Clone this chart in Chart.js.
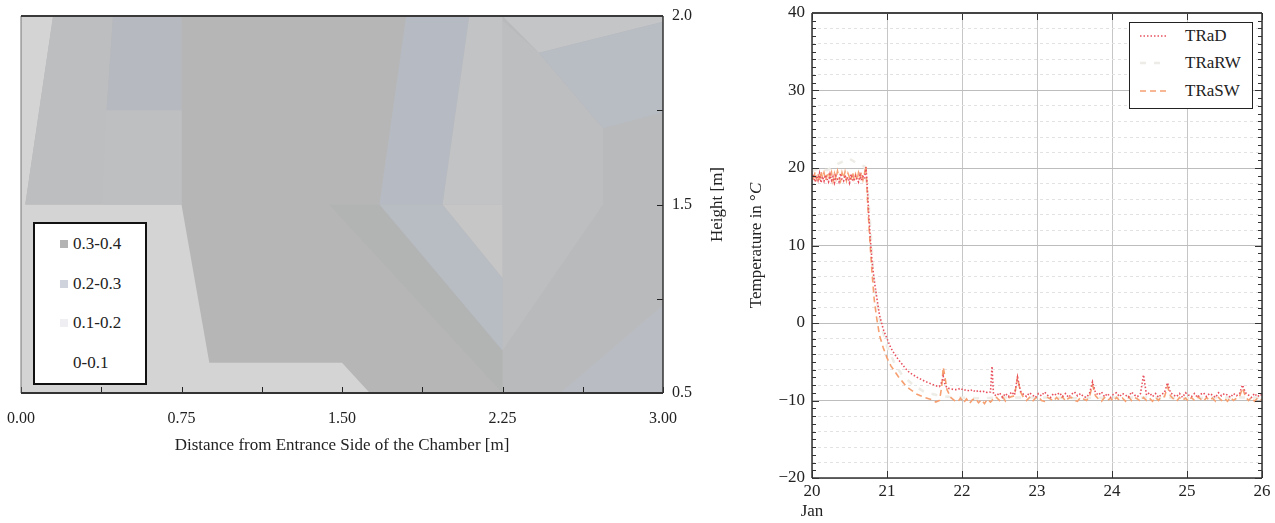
<!DOCTYPE html>
<html>
<head>
<meta charset="utf-8">
<script src="https://cdn.jsdelivr.net/npm/chart.js@4.4.1/dist/chart.umd.min.js"></script>
<style>
  body { margin: 0; background: #fff; }
  #wrap { position: relative; width: 1275px; height: 523px; overflow: hidden; font-family: "Liberation Serif", "Times New Roman", serif; color: #222; }
  #contour { position: absolute; left: 0; top: 0; }
  #temps { position: absolute; left: 740px; top: 0; }
  .legend { position: absolute; background: #fff; box-sizing: border-box; }
  #zoneLegend { left: 33px; top: 222px; width: 114px; height: 163px; border: 2px solid #111; font-size: 17px; }
  #tempLegend { left: 1129px; top: 22px; width: 124px; height: 87px; border: 1.5px solid #222; font-size: 17px; }
  .row { position: absolute; left: 0; height: 20px; line-height: 20px; width: 100%; }
  .row span, .row i, .row svg { position: absolute; top: 0; }
  .sw { display: block; width: 8px; height: 8px; top: 6px !important; }
</style>
</head>
<body>
<div id="wrap">
  <canvas id="contour" width="740" height="523"></canvas>
  <div id="zoneLegend" class="legend"></div>
  <canvas id="temps" width="535" height="523"></canvas>
  <div id="tempLegend" class="legend"></div>
</div>
<script>
// ---- left panel: contour bands (x = distance in m, y = row on the height axis)
const distanceTicks = [0, 0.375, 0.75, 1.125, 1.5, 1.875, 2.25, 2.625, 3];
const distanceLabels = ["0.00", "", "0.75", "", "1.50", "", "2.25", "", "3.00"];
const heightTicks = [0, 1, 2, 3, 4];
const heightLabels = ["0.5", "", "1.5", "", "2.0"];
const contourRanges = ["0.3-0.4", "0.2-0.3", "0.1-0.2", "0-0.1"];

const zonePolygons = [
  [[0, 0], [3, 0], [3, 4], [0, 4]],
  [[0.15, 4], [3, 4], [3, 0], [1.63, 0], [1.5, 0.32], [0.88, 0.32], [0.75, 2], [0.02, 2]],
  [[0.15, 4], [0.43, 4], [0.40, 3], [0.75, 3], [0.75, 2], [0.02, 2]],
  [[0.40, 3], [0.75, 3], [0.75, 2], [0.38, 2]],
  [[0.43, 4], [0.75, 4], [0.75, 3], [0.40, 3]],
  [[2.25, 4], [3, 4], [3, 0], [2.25, 0]],
  [[2.25, 3.95], [2.42, 3.61], [2.72, 2.81], [2.72, 2], [2.25, 0.45]],
  [[2.25, 4], [3, 4], [3, 3.94], [2.42, 3.61]],
  [[2.42, 3.61], [3, 3.94], [3, 2.98], [2.72, 2.81]],
  [[3, 0.93], [3, 0], [2.52, 0]],
  [[1.80, 4], [2.095, 4], [1.97, 2], [1.675, 2]],
  [[2.095, 4], [2.25, 4], [2.25, 2], [1.97, 2]],
  [[1.44, 2], [1.675, 2], [2.25, 0.45], [2.25, 0]],
  [[1.675, 2], [1.97, 2], [2.25, 1.22], [2.25, 0.45]],
  [[1.97, 2], [2.25, 2], [2.25, 1.22]]
];
const zoneColors = ["#d4d4d4", "#b6b6b6", "#bdbec0", "#bebfc1", "#b6bac0", "#b9babc", "#bdbec0",
  "#c4c5c7", "#b8bcc3", "#b9bdc3", "#b6bbc3", "#c2c3c5", "#b2b3b3", "#b8bdc4", "#c6c6c7"];
const swatchColors = ["#b3b3b3", "#cfd3dc", "#eeeef3", "#ffffff"];

// ---- right panel: air temperatures, x = day of January
const sampleDays = [
  20.00, 20.02, 20.04, 20.06, 20.08, 20.10, 20.12, 20.14, 20.16, 20.18,
  20.20, 20.22, 20.24, 20.26, 20.28, 20.30, 20.32, 20.34, 20.36, 20.38,
  20.40, 20.42, 20.44, 20.46, 20.48, 20.50, 20.52, 20.54, 20.56, 20.58,
  20.60, 20.62, 20.64, 20.66, 20.68, 20.70,
  20.72, 20.74, 20.76, 20.78, 20.80, 20.83, 20.86, 20.90, 20.95, 21.00,
  21.05, 21.10, 21.15, 21.20, 21.25, 21.30, 21.40, 21.50, 21.60, 21.65,
  21.70, 21.73, 21.75, 21.77, 21.80, 21.85, 21.90,
  21.94, 21.98, 22.02, 22.06, 22.10, 22.14, 22.18, 22.22, 22.26, 22.30, 22.34, 22.38, 22.40, 22.42,
  22.46, 22.50, 22.54, 22.58, 22.62, 22.66, 22.70, 22.74, 22.78, 22.82,
  22.86, 22.90, 22.94, 22.98, 23.02, 23.06, 23.10, 23.14, 23.18, 23.22,
  23.26, 23.30, 23.34, 23.38, 23.42, 23.46, 23.50, 23.54, 23.58, 23.62,
  23.66, 23.70, 23.74, 23.78, 23.82, 23.86, 23.90, 23.94, 23.98, 24.02,
  24.06, 24.10, 24.14, 24.18, 24.22, 24.26, 24.30, 24.34, 24.38, 24.42,
  24.46, 24.50, 24.54, 24.58, 24.62, 24.66, 24.70, 24.74, 24.78, 24.82,
  24.86, 24.90, 24.94, 24.98, 25.02, 25.06, 25.10, 25.14, 25.18, 25.22,
  25.26, 25.30, 25.34, 25.38, 25.42, 25.46, 25.50, 25.54, 25.58, 25.62,
  25.66, 25.70, 25.74, 25.78, 25.82, 25.86, 25.90, 25.94, 25.98, 26.00
];
const tradTemps = [
  18.5, 19.2, 18.2, 19.0, 18.4, 19.3, 18.1, 18.9, 18.3, 19.1,
  18.6, 18.2, 19.2, 18.4, 18.9, 18.1, 19.0, 18.6, 18.2, 19.3,
  18.5, 18.3, 19.1, 18.4, 18.8, 18.1, 19.2, 18.5, 18.3, 19.0,
  18.6, 18.2, 19.1, 18.4, 18.9, 18.6,
  20.1, 17.0, 13.5, 10.5, 8.0, 5.5, 3.5, 1.0, -0.8, -2.0,
  -3.2, -4.0, -4.7, -5.3, -5.9, -6.4, -7.0, -7.5, -7.9, -8.1,
  -8.2, -7.6, -6.9, -7.8, -8.4, -8.5, -8.6,
  -8.6, -8.4, -8.7, -8.6, -8.8, -8.6, -8.9, -8.7, -8.9, -8.8, -9.0, -8.9, -5.6, -9.2,
  -9.4, -9.0, -9.6, -9.1, -9.5, -8.9, -9.3, -7.0, -8.8, -9.2,
  -9.5, -9.0, -9.3, -9.6, -9.1, -9.4, -8.9, -9.3, -9.6, -9.1,
  -9.3, -9.0, -9.5, -9.1, -9.6, -9.2, -8.9, -9.4, -9.1, -9.5,
  -9.6, -9.1, -7.6, -9.0, -9.3, -8.9, -9.5, -9.1, -9.6, -9.2,
  -9.0, -9.5, -9.1, -9.3, -9.6, -8.9, -9.3, -9.5, -9.1, -6.7,
  -9.3, -9.0, -9.5, -9.1, -9.6, -9.2, -9.0, -7.7, -9.0, -9.3,
  -9.5, -9.1, -9.6, -9.0, -9.3, -9.5, -9.1, -9.6, -9.2, -9.0,
  -9.5, -9.1, -9.3, -9.6, -9.0, -9.4, -9.1, -9.3, -9.6, -9.1,
  -9.4, -9.1, -8.0, -9.0, -9.3, -9.6, -9.1, -9.5, -9.2, -9.4
];
const traswTemps = [
  19.2, 18.3, 19.5, 18.6, 19.3, 18.2, 19.6, 18.7, 19.4, 18.4,
  19.0, 19.5, 18.5, 19.4, 18.3, 19.3, 18.6, 19.6, 18.8, 18.3,
  19.4, 18.7, 19.5, 18.4, 19.3, 18.8, 18.3, 19.5, 18.6, 19.2,
  18.4, 19.4, 18.7, 19.5, 18.5, 19.3,
  20.3, 15.9, 12.5, 9.4, 6.5, 3.0, 0.8, -1.6, -3.2, -4.5,
  -5.5, -6.2, -6.9, -7.5, -8.1, -8.5, -9.2, -9.6, -9.9, -10.2,
  -10.0, -8.2, -5.7, -6.8, -8.6, -9.6, -10.0,
  -10.2, -9.7, -10.3, -9.8, -10.4, -9.9, -9.7, -10.3, -9.9, -10.4, -9.8, -10.2, -10.0, -9.6,
  -9.6, -10.0, -9.5, -10.1, -9.7, -9.5, -9.4, -7.0, -8.9, -9.6,
  -10.0, -9.6, -10.1, -9.7, -9.5, -10.0, -10.1, -9.6, -9.8, -10.1,
  -9.6, -10.0, -9.5, -10.1, -9.7, -9.6, -10.0, -10.1, -9.6, -9.8,
  -10.0, -9.5, -8.0, -9.4, -9.8, -10.1, -9.6, -10.0, -9.7, -10.1,
  -9.6, -10.0, -9.7, -10.1, -9.5, -10.0, -9.6, -9.8, -10.1, -9.6,
  -10.0, -9.7, -10.1, -9.6, -10.0, -9.5, -9.5, -8.2, -9.4, -9.8,
  -10.1, -9.6, -10.0, -9.7, -10.1, -9.6, -10.0, -9.5, -9.8, -10.1,
  -9.6, -10.0, -9.7, -10.1, -9.6, -10.0, -9.7, -10.1, -9.6, -10.0,
  -9.7, -9.5, -8.4, -9.5, -10.0, -9.6, -10.1, -9.7, -10.0, -9.8
];
const rwDays = [20.0, 20.1, 20.2, 20.3, 20.4, 20.5, 20.6, 20.7, 20.74, 20.78, 20.82, 20.9, 21.0, 21.1,
  21.2, 21.35, 21.5, 21.7, 21.9, 22.2, 22.6, 23.0, 23.5, 24.0, 24.5, 25.0, 25.5, 26.0];
const trarwTemps = [19.6, 20.0, 19.7, 20.3, 20.8, 21.2, 20.6, 20.2, 17.5, 12.0, 6.0, 0.5, -3.0, -5.2,
  -6.7, -8.0, -8.9, -9.4, -9.6, -9.7, -9.6, -9.6, -9.7, -9.6, -9.6, -9.7, -9.6, -9.6];
const dayTicks = [20, 21, 22, 23, 24, 25, 26];
const dayLabels = [["20", "Jan"], "21", "22", "23", "24", "25", "26"];

const seriesNames = ["TRaD", "TRaRW", "TRaSW"];
const seriesColors = ["#e8505e", "#eeece6", "#f6a072"];
const seriesDash = [[1.5, 2], [6, 8], [6, 4]];
const seriesWidth = [1.6, 2.5, 1.6];

const SERIF = '"Liberation Serif", "Times New Roman", serif';
Chart.defaults.font.family = SERIF;
Chart.defaults.color = "#222";

// no extra room for labels that overhang the plot ends
const noOverhang = s => { s.paddingLeft = 0; s.paddingRight = 0; s.paddingTop = 0; s.paddingBottom = 0; };

// inward tick marks and the plot frame
function framePlugin(cfg) {
  return {
    id: "frame",
    afterDatasetsDraw(chart) {
      const { ctx, chartArea: a, scales } = chart;
      ctx.save();
      ctx.strokeStyle = cfg.tickColor;
      ctx.lineWidth = 1;
      ctx.beginPath();
      scales.x.ticks.forEach(t => {
        const px = Math.round(scales.x.getPixelForValue(t.value)) + 0.5;
        cfg.xSides.forEach(side => {
          const y0 = side === "bottom" ? a.bottom : a.top;
          ctx.moveTo(px, y0);
          ctx.lineTo(px, side === "bottom" ? y0 - cfg.xLen : y0 + cfg.xLen);
        });
      });
      scales.y.ticks.forEach(t => {
        const py = Math.round(scales.y.getPixelForValue(t.value)) + 0.5;
        const len = cfg.yMajor && t.value % cfg.yMajor !== 0 ? cfg.yMinorLen : cfg.yLen;
        cfg.ySides.forEach(side => {
          const x0 = side === "left" ? a.left : a.right;
          ctx.moveTo(x0, py);
          ctx.lineTo(side === "left" ? x0 + len : x0 - len, py);
        });
      });
      ctx.stroke();
      const ends = {
        top: [a.left, a.top, a.right, a.top],
        bottom: [a.left, a.bottom, a.right, a.bottom],
        left: [a.left, a.top, a.left, a.bottom],
        right: [a.right, a.top, a.right, a.bottom]
      };
      Object.keys(cfg.sides).forEach(side => {
        const [color, w] = cfg.sides[side];
        const e = ends[side];
        ctx.strokeStyle = color;
        ctx.lineWidth = w;
        ctx.beginPath();
        ctx.moveTo(e[0], e[1]);
        ctx.lineTo(e[2], e[3]);
        ctx.stroke();
      });
      ctx.restore();
    }
  };
}

// rotated axis title, read bottom to top
function sideTitle(x, parts) {
  return {
    id: "sideTitle",
    afterDraw(chart) {
      const { ctx, chartArea: a } = chart;
      ctx.save();
      ctx.translate(x, (a.top + a.bottom) / 2);
      ctx.rotate(-Math.PI / 2);
      ctx.fillStyle = "#222";
      ctx.textBaseline = "middle";
      let total = 0;
      parts.forEach(p => { ctx.font = p.font; p.w = ctx.measureText(p.text).width; total += p.w; });
      let cx = -total / 2;
      parts.forEach(p => { ctx.font = p.font; ctx.fillText(p.text, cx, 0); cx += p.w; });
      ctx.restore();
    }
  };
}

// ---------- contour chart
new Chart(document.getElementById("contour"), {
  type: "scatter",
  data: {
    datasets: zonePolygons.map((poly, i) => ({
      data: poly.map(([x, y]) => ({ x, y })),
      showLine: true,
      fill: "shape",
      backgroundColor: zoneColors[i],
      borderWidth: 0,
      pointRadius: 0,
      order: -i
    }))
  },
  options: {
    responsive: false,
    animation: false,
    events: [],
    layout: { padding: { left: 21, top: 16, right: 0, bottom: 67 } },
    plugins: { legend: { display: false }, tooltip: { enabled: false } },
    scales: {
      x: {
        type: "linear", min: 0, max: 3,
        afterBuildTicks: s => { s.ticks = distanceTicks.map(v => ({ value: v })); },
        afterFit: s => { s.height = 63; noOverhang(s); },
        ticks: { callback: (v, i) => distanceLabels[i], autoSkip: false, maxRotation: 0, padding: 16, font: { size: 16 } },
        grid: { display: false, drawTicks: false },
        border: { display: false },
        title: { display: true, text: "Distance from Entrance Side of the Chamber [m]", font: { size: 17 }, padding: 0 }
      },
      y: {
        type: "linear", position: "right", min: 0, max: 4,
        afterBuildTicks: s => { s.ticks = heightTicks.map(v => ({ value: v })); },
        afterFit: s => { s.width = 77; noOverhang(s); },
        ticks: { callback: (v, i) => heightLabels[i], autoSkip: false, padding: 9, font: { size: 16 } },
        grid: { display: false, drawTicks: false },
        border: { display: false }
      }
    }
  },
  plugins: [
    framePlugin({
      tickColor: "#222", xSides: ["bottom"], xLen: 6, ySides: ["right"], yLen: 6,
      sides: { left: ["#777", 1], top: ["#3a3a3a", 2], right: ["#333", 1.5], bottom: ["#333", 2] }
    }),
    sideTitle(718, [{ text: "Height [m]", font: "17px " + SERIF }])
  ]
});

const zoneLegend = document.getElementById("zoneLegend");
contourRanges.forEach((label, i) => {
  const row = document.createElement("div");
  row.className = "row";
  row.style.top = (20 + i * 39.5 - 10) + "px";
  row.innerHTML = `<i class="sw" style="left:25px;background:${swatchColors[i]}"></i><span style="left:38px">${label}</span>`;
  zoneLegend.appendChild(row);
});

// ---------- temperature chart
const toPoints = (days, temps) => days.map((d, i) => ({ x: d, y: temps[i] }));
const seriesData = [toPoints(sampleDays, tradTemps), toPoints(rwDays, trarwTemps), toPoints(sampleDays, traswTemps)];
const seriesOrder = [0, 2, 1];

new Chart(document.getElementById("temps"), {
  type: "line",
  data: {
    datasets: seriesNames.map((name, i) => ({
      label: name,
      data: seriesData[i],
      borderColor: seriesColors[i],
      borderDash: seriesDash[i],
      borderWidth: seriesWidth[i],
      pointRadius: 0,
      tension: 0,
      fill: false,
      order: seriesOrder[i]
    }))
  },
  options: {
    responsive: false,
    animation: false,
    events: [],
    layout: { padding: { left: 0, top: 13, right: 13, bottom: 0 } },
    plugins: { legend: { display: false }, tooltip: { enabled: false } },
    scales: {
      x: {
        type: "linear", min: 20, max: 26,
        afterBuildTicks: s => { s.ticks = dayTicks.map(v => ({ value: v })); },
        afterFit: s => { s.height = 45; noOverhang(s); },
        ticks: { callback: (v, i) => dayLabels[i], autoSkip: false, maxRotation: 0, padding: 3, font: { size: 17 } },
        grid: { color: "#c6c6c6", drawTicks: false },
        border: { display: false }
      },
      y: {
        min: -20, max: 40,
        afterFit: s => { s.width = 72; noOverhang(s); },
        ticks: {
          stepSize: 1, autoSkip: false, padding: 7, font: { size: 17 },
          callback: v => v % 10 === 0 ? (v < 0 ? "\u2212" + (-v) : String(v)) : ""
        },
        grid: {
          drawTicks: false,
          color: c => c.tick.value % 10 === 0 ? "#bdbdbd" : (c.tick.value % 2 === 0 ? "#e2e2e2" : "rgba(0,0,0,0)")
        },
        border: { display: false, dash: c => (c.tick && c.tick.value % 10 !== 0) ? [3, 3] : [] }
      }
    }
  },
  plugins: [
    framePlugin({
      tickColor: "#333", xSides: ["bottom", "top"], xLen: 7, ySides: ["left", "right"], yLen: 7, yMajor: 10, yMinorLen: 4,
      sides: { top: ["#444", 1.8], bottom: ["#333", 1.5], left: ["#333", 1.5], right: ["#333", 1.5] }
    }),
    sideTitle(17, [
      { text: "Temperature in \u00b0", font: "17px " + SERIF },
      { text: "C", font: "italic 17px " + SERIF }
    ])
  ]
});

const tempLegend = document.getElementById("tempLegend");
seriesNames.forEach((name, i) => {
  const row = document.createElement("div");
  row.className = "row";
  row.style.top = (12.5 + i * 27.5 - 10) + "px";
  row.innerHTML = `<svg style="left:10px" width="28" height="20"><line x1="0" y1="10" x2="28" y2="10" stroke="${seriesColors[i]}" stroke-width="${Math.max(1.5, seriesWidth[i])}" stroke-dasharray="${seriesDash[i].join(",")}"/></svg><span style="left:55px">${name}</span>`;
  tempLegend.appendChild(row);
});
</script>
</body>
</html>
